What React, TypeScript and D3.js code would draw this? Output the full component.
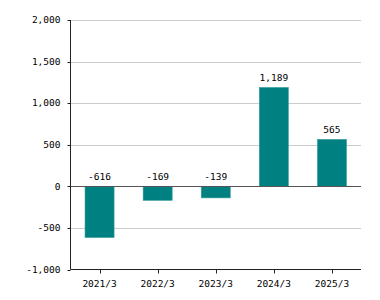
import React from "react";
import * as d3 from "d3";

const categories = ["2021/3", "2022/3", "2023/3", "2024/3", "2025/3"];
const values = [-616, -169, -139, 1189, 565];
const yTicks = [-1000, -500, 0, 500, 1000, 1500, 2000];

const W = 380, H = 300;
const left = 70.5, right = 361, top = 20, bottom = 269.5;
const font = "'DejaVu Sans Mono', monospace";

export default function App() {
  const x = d3.scaleBand<string>().domain(categories).range([left, right]).paddingInner(0.5).paddingOuter(0.25);
  const y = d3.scaleLinear().domain([-1000, 2000]).range([bottom, top]);
  const locale = d3.formatLocale({ decimal: ".", thousands: ",", grouping: [3], currency: ["", ""], minus: "-" });
  const fmt = locale.format(",");
  return (
    <svg width={W} height={H} style={{ position: "absolute", left: 0, top: 0 }}>
      {yTicks.map((t) => (
        <g key={t}>
          {t !== -1000 && t !== 0 && (
            <line x1={left} x2={right} y1={Math.round(y(t)) + 0.5} y2={Math.round(y(t)) + 0.5} stroke="#cccccc" strokeWidth={1} />
          )}
          <line x1={left - 3} x2={left} y1={Math.round(y(t)) + 0.5} y2={Math.round(y(t)) + 0.5} stroke="#222" />
          <text x={left - 10} y={y(t)} dy="0.35em" textAnchor="end" fontFamily={font} fontSize={9.5} fill="#000">
            {fmt(t)}
          </text>
        </g>
      ))}
      {values.map((v, i) => {
        const c = categories[i];
        const y0 = y(0), y1 = y(v);
        return (
          <g key={c}>
            <rect x={x(c)} y={Math.min(y0, y1)} width={x.bandwidth()} height={Math.abs(y1 - y0)} fill="#008080" stroke="#3aa09c" strokeWidth={0.6} />
            <text x={(x(c) as number) + x.bandwidth() / 2} y={Math.min(y0, y1) - 6} textAnchor="middle" fontFamily={font} fontSize={9.5} fill="#000">
              {fmt(v)}
            </text>
          </g>
        );
      })}
      <line x1={left} x2={right} y1={Math.round(y(0)) + 0.5} y2={Math.round(y(0)) + 0.5} stroke="#555" strokeWidth={1.2} />
      <line x1={left} x2={left} y1={top} y2={bottom} stroke="#222" />
      <line x1={left} x2={right} y1={bottom} y2={bottom} stroke="#222" />
      {categories.map((c) => {
        const cx = (x(c) as number) + x.bandwidth() / 2;
        return (
          <g key={c}>
            <line x1={Math.round(cx) + 0.5} x2={Math.round(cx) + 0.5} y1={bottom} y2={bottom + 4} stroke="#222" />
            <text x={cx} y={287} textAnchor="middle" fontFamily={font} fontSize={9.5} fill="#000">
              {c}
            </text>
          </g>
        );
      })}
    </svg>
  );
}
